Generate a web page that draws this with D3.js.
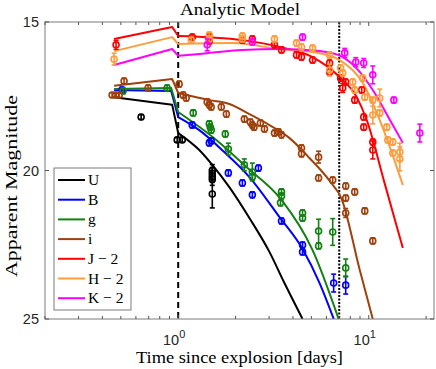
<!DOCTYPE html>
<html><head><meta charset="utf-8">
<script src="https://cdn.jsdelivr.net/npm/d3@7"></script>
<style>body{margin:0;background:#fff}svg{display:block}</style>
</head><body><svg id="c" width="436" height="369"></svg>
<script>
// ---------- data (t in days, apparent magnitude, error) ----------
const bands = ["U","B","g","i","J \u2212 2","H \u2212 2","K \u2212 2"];
const colors = ["#000000","#0000ff","#138013","#a0410d","#ff0000","#ff9c3c","#ff00ff"];

const uModel = [[0.461,17.53],[0.93,17.79],[1.0,18.74],[1.29,19.31],[1.51,19.81],[1.855,20.56],[2.364,21.6],[3.011,22.74],[3.61,23.79],[4.494,25.0]];
const bModel = [[0.461,17.29],[0.919,17.32],[1.0,18.2],[1.29,18.64],[1.746,19.38],[2.364,20.22],[3.403,21.57],[4.494,22.64],[5.52,23.79],[6.55,25.0]];
const gModel = [[0.461,17.26],[0.919,17.22],[1.0,18.03],[1.585,18.97],[2.28,19.88],[3.484,20.99],[5.073,22.68],[6.95,25.0]];
const iModel = [[0.461,17.15],[0.93,16.92],[1.0,17.39],[1.456,17.63],[1.855,17.76],[2.364,18.1],[3.011,18.47],[3.84,18.91],[4.887,19.58],[6.233,20.35],[7.21,20.96],[8.97,23.35],[10.5,25.0]];
const jModel = [[0.461,15.57],[0.93,15.17],[1.0,15.47],[2.172,15.61],[3.403,15.84],[5.073,16.18],[7.03,16.85],[8.65,17.53],[9.76,18.3],[12.14,20.45],[15.1,22.61]];
const hModel = [[0.461,15.98],[0.93,15.51],[1.0,15.74],[1.923,15.71],[3.403,15.91],[5.073,16.01],[7.03,16.28],[9.3,17.05],[11.42,18.3],[15.1,20.49]];
const kModel = [[0.461,16.45],[0.93,15.91],[1.0,16.14],[1.29,16.08],[2.172,15.94],[3.403,15.91],[5.52,15.98],[7.3,16.18],[8.97,16.68],[10.5,17.29],[13.37,18.47],[15.1,19.07]];

const uData = [[0.639,18.2,0.08],[0.988,18.97,0.08],[1.05,18.97,0.08],[1.51,20.0,0.2],[1.51,20.1,0.2],[1.51,20.2,0.2],[1.51,20.3,0.2],[1.51,20.79,0.47]];
const bData = [[0.507,17.29,0.1],[1.185,18.47,0.1],[1.456,19.07,0.1],[1.49,19.0,0.1],[1.833,20.08,0.1],[2.172,20.42,0.1],[2.45,20.82,0.1],[2.636,19.92,0.1],[3.484,21.7,0.1],[4.494,22.51,0.1],[4.494,22.74,0.1],[6.545,23.79,0.3],[7.57,23.86,0.3]];
const gData = [[0.514,17.32,0.1],[0.875,17.22,0.1],[1.199,18.06,0.1],[1.456,18.43,0.1],[1.474,18.54,0.1],[1.492,18.64,0.1],[1.767,18.77,0.1],[1.833,19.28,0.2],[2.224,19.81,0.2],[2.45,20.05,0.3],[2.45,20.22,0.1],[3.484,20.72,0.1],[3.484,20.86,0.1],[3.442,21.09,0.1],[4.494,21.43,0.1],[4.494,21.6,0.1],[5.455,22.04,0.4],[5.455,22.54,0.1],[6.469,22.07,0.45],[7.57,23.28,0.3]];
const iData = [[0.45,17.46,0.08],[0.47,17.46,0.08],[0.49,17.46,0.08],[0.52,16.99,0.1],[0.695,17.22,0.1],[1.012,17.09,0.1],[1.062,17.46,0.1],[1.102,17.56,0.1],[1.42,17.69,0.1],[1.456,17.79,0.1],[1.49,17.86,0.1],[1.684,17.86,0.1],[1.79,18.1,0.1],[2.224,18.27,0.1],[2.39,18.37,0.1],[2.45,18.47,0.1],[2.5,18.54,0.1],[2.7,18.4,0.1],[2.836,18.6,0.1],[3.2,18.74,0.1],[3.36,18.7,0.1],[3.484,18.8,0.1],[4.437,19.24,0.1],[4.437,19.44,0.1],[5.455,19.55,0.2],[5.455,20.25,0.1],[6.469,20.32,0.1],[7.57,20.52,0.1],[7.57,20.93,0.1],[8.44,20.72,0.1],[7.57,21.43,0.15],[9.53,21.36,0.1],[10.5,22.37,0.1]];
const jData = [[0.472,15.77,0.15],[1.185,15.51,0.1],[1.456,15.51,0.1],[1.456,15.64,0.1],[2.172,15.61,0.1],[2.45,15.57,0.1],[3.2,15.77,0.1],[3.484,15.94,0.1],[4.178,16.11,0.1],[4.437,16.18,0.1],[5.073,16.28,0.1],[6.233,16.38,0.1],[6.233,16.68,0.1],[7.12,16.89,0.1],[7.3,17.22,0.15],[7.57,17.02,0.1],[8.44,17.63,0.1],[9.19,17.29,0.1],[9.41,18.2,0.1],[9.41,18.54,0.1],[10.5,19.04,0.1],[10.5,19.31,0.3]];
const hData = [[0.461,16.25,0.2],[1.171,15.61,0.1],[1.456,15.44,0.1],[1.456,15.57,0.1],[2.172,15.47,0.1],[2.172,15.57,0.1],[3.2,15.57,0.1],[4.178,15.71,0.1],[4.437,15.84,0.1],[5.073,15.88,0.1],[6.233,16.11,0.1],[6.233,16.62,0.2],[7.12,16.55,0.1],[7.3,16.72,0.1],[8.24,17.02,0.1],[8.44,17.29,0.1],[9.3,16.89,0.1],[9.53,17.53,0.1],[10.5,17.63,0.1],[11.42,17.56,0.3],[10.5,18.13,0.3],[11.42,18.06,0.1],[12.44,18.54,0.1],[12.59,18.97,0.1],[13.37,19.04,0.1],[13.37,19.41,0.1],[14.56,19.38,0.3],[14.56,19.61,0.4]];
const kData = [[1.421,15.77,0.2],[2.45,15.67,0.1],[4.494,15.51,0.1],[7.48,16.04,0.15],[8.55,16.35,0.15],[9.41,16.38,0.15],[10.5,16.78,0.3],[13.54,17.63,0.1],[18.54,18.74,0.3]];

const xDomain = [0.2, 22];
const yDomain = [15, 25];
const yTicks = [15, 20, 25];
const xMajor = [1, 10];
const xMinor = [0.2,0.3,0.4,0.5,0.6,0.7,0.8,0.9,2,3,4,5,6,7,8,9,20];
const vLines = [{t:1, dash:"6,4"}, {t:7, dash:"2,1.5"}];

// ---------- drawing ----------
const svg = d3.select("#c");
const L = 45, R = 434, T = 22, B = 319;
const x = d3.scaleLog().domain(xDomain).range([L, R]);
const y = d3.scaleLinear().domain(yDomain).range([T, B]);
const axisCol = "#262626";

svg.append("defs").append("clipPath").attr("id","clip")
  .append("rect").attr("x",L).attr("y",T).attr("width",R-L).attr("height",B-T);

const models = [uModel,bModel,gModel,iModel,jModel,hModel,kModel];
const datas = [uData,bData,gData,iData,jData,hData,kData];

const plot = svg.append("g").attr("clip-path","url(#clip)");
const lineLin = d3.line().x(d=>x(d[0])).y(d=>y(d[1]));
const lineSmooth = d3.line().x(d=>x(d[0])).y(d=>y(d[1])).curve(d3.curveMonotoneX);

// vertical reference lines
vLines.forEach(v=>{
  plot.append("line").attr("x1",x(v.t)).attr("x2",x(v.t)).attr("y1",T).attr("y2",B)
    .attr("stroke","#000").attr("stroke-width",2).attr("stroke-dasharray",v.dash);
});

models.forEach((m,i)=>{
  // early phase (before t = 1) is straight segments; later phase smooth
  const early = m.slice(0,3), late = m.slice(2);
  plot.append("path").datum(early).attr("d",lineLin).attr("fill","none")
    .attr("stroke",colors[i]).attr("stroke-width",2).attr("stroke-linejoin","round");
  plot.append("path").datum(late).attr("d",lineSmooth).attr("fill","none")
    .attr("stroke",colors[i]).attr("stroke-width",2).attr("stroke-linejoin","round");
});

datas.forEach((ds,i)=>{
  const g = plot.append("g").attr("stroke",colors[i]).attr("fill","none").attr("stroke-width",1.6);
  ds.forEach(d=>{
    const cx = x(d[0]), y1 = y(d[1]-d[2]), y2 = y(d[1]+d[2]);
    g.append("line").attr("x1",cx).attr("x2",cx).attr("y1",y1).attr("y2",y2);
    g.append("line").attr("x1",cx-2.5).attr("x2",cx+2.5).attr("y1",y1).attr("y2",y1);
    g.append("line").attr("x1",cx-2.5).attr("x2",cx+2.5).attr("y1",y2).attr("y2",y2);
    g.append("circle").attr("cx",cx).attr("cy",y(d[1])).attr("r",3);
  });
});

// axes box
svg.append("rect").attr("x",L).attr("y",T).attr("width",R-L).attr("height",B-T)
  .attr("fill","none").attr("stroke","#7a7a7a").attr("stroke-width",1);

const tk = svg.append("g").attr("stroke","#555").attr("stroke-width",1);
xMajor.concat(xMinor).forEach(t=>{
  const len = xMajor.includes(t) ? 4 : 3;
  tk.append("line").attr("x1",x(t)).attr("x2",x(t)).attr("y1",B).attr("y2",B-len);
  tk.append("line").attr("x1",x(t)).attr("x2",x(t)).attr("y1",T).attr("y2",T+len);
});
yTicks.forEach(v=>{
  tk.append("line").attr("x1",L).attr("x2",L+4).attr("y1",y(v)).attr("y2",y(v));
  tk.append("line").attr("x1",R).attr("x2",R-4).attr("y1",y(v)).attr("y2",y(v));
});

// tick labels
yTicks.forEach(v=>{
  svg.append("text").attr("x",L-6).attr("y",y(v)+5).attr("text-anchor","end")
    .attr("font-family","Liberation Sans, Arial, sans-serif").attr("font-size",14.5)
    .attr("fill",axisCol).text(v);
});
xMajor.forEach(t=>{
  const e = Math.round(Math.log10(t));
  const tx = svg.append("text").attr("x",x(t)-4).attr("y",345).attr("text-anchor","middle")
    .attr("font-family","Liberation Sans, Arial, sans-serif").attr("font-size",14.5).attr("fill",axisCol);
  tx.append("tspan").text("10");
  tx.append("tspan").attr("dy",-7).attr("font-size",11).text(e);
});

// titles
const serif = "Liberation Serif, DejaVu Serif, serif";
svg.append("text").attr("x",240).attr("y",15).attr("text-anchor","middle")
  .attr("font-family",serif).attr("font-size",17).attr("fill","#000")
  .attr("textLength",120).attr("lengthAdjust","spacingAndGlyphs").text("Analytic Model");
svg.append("text").attr("x",239.5).attr("y",363).attr("text-anchor","middle")
  .attr("font-family",serif).attr("font-size",17).attr("fill","#000")
  .attr("textLength",207).attr("lengthAdjust","spacingAndGlyphs").text("Time since explosion [days]");
svg.append("text").attr("transform","translate(17,186) rotate(-90)").attr("text-anchor","middle")
  .attr("font-family",serif).attr("font-size",17).attr("fill","#000")
  .attr("textLength",182).attr("lengthAdjust","spacingAndGlyphs").text("Apparent Magnitude");

// legend
const lg = svg.append("g");
lg.append("rect").attr("x",54).attr("y",168).attr("width",77).attr("height",142)
  .attr("fill","#fff").attr("stroke","#7a7a7a").attr("stroke-width",1);
bands.forEach((b,i)=>{
  const yy = 180 + i*19.7;
  lg.append("line").attr("x1",58).attr("x2",85).attr("y1",yy).attr("y2",yy)
    .attr("stroke",colors[i]).attr("stroke-width",2);
  lg.append("text").attr("x",88).attr("y",yy+5).attr("font-family",serif).attr("font-size",15.5)
    .attr("fill","#000").text(b);
});
</script></body></html>
